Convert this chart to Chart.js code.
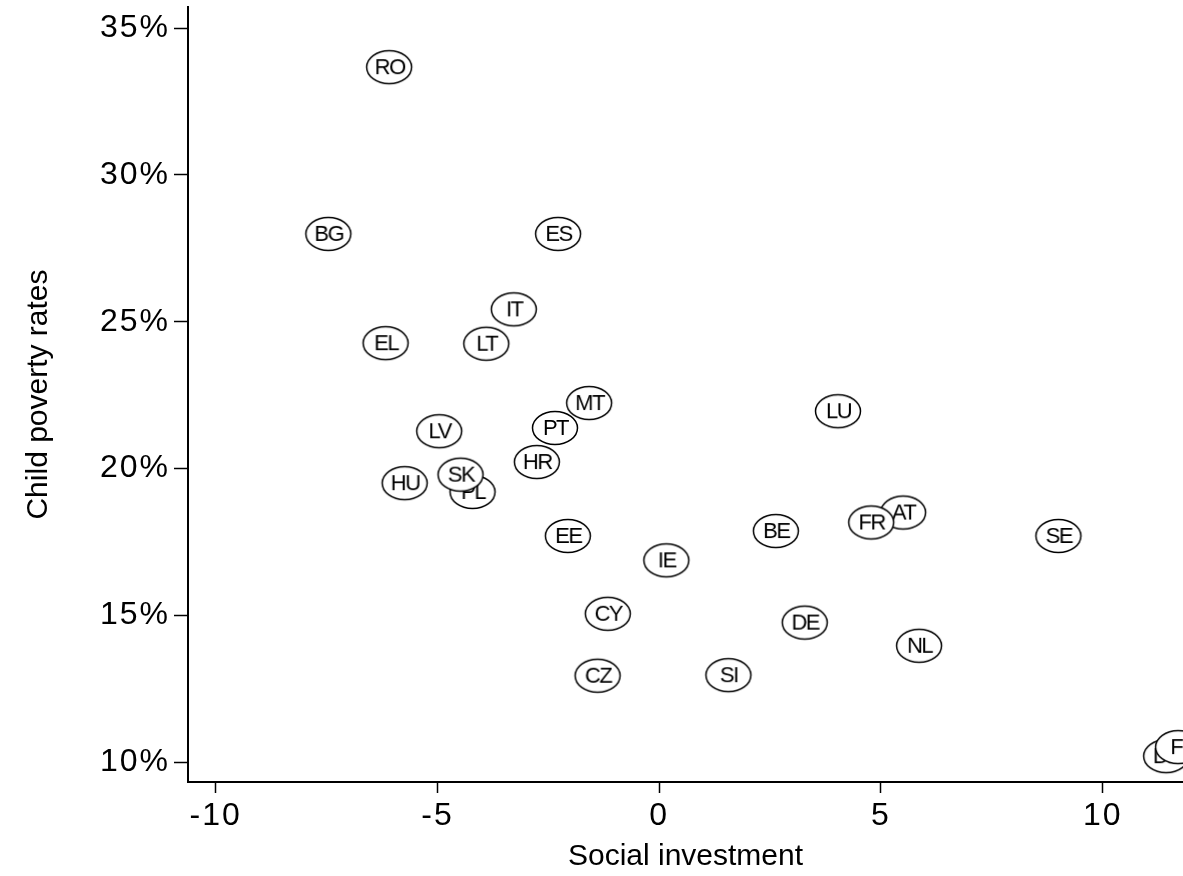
<!DOCTYPE html>
<html>
<head>
<meta charset="utf-8">
<script src="https://cdn.jsdelivr.net/npm/chart.js@4/dist/chart.umd.min.js"></script>
<style>
  html, body { margin: 0; padding: 0; background: #ffffff; overflow: hidden; }
  #wrap { width: 1183px; height: 876px; position: relative; }
</style>
</head>
<body>
<div id="wrap"><canvas id="c"></canvas></div>
<script>
// Country codes, social investment score (x) and child poverty rate in % (y)
const countries = ['AT','BE','BG','CY','CZ','DE','DK','EE','EL','ES','FI','FR','HR','HU','IE','IT','LT','LU','LV','MT','NL','PL','PT','RO','SE','SI','SK'];
const socialInvestment = [5.50, 2.63, -7.46, -1.16, -1.39, 3.28, 11.43, -2.06, -6.17, -2.28, 11.70, 4.78, -2.76, -5.74, 0.16, -3.28, -3.90, 4.03, -4.96, -1.58, 5.86, -4.21, -2.35, -6.09, 9.00, 1.56, -4.48];
const childPoverty = [18.50, 17.87, 27.99, 15.05, 12.94, 14.75, 10.20, 17.70, 24.27, 27.99, 10.51, 18.16, 20.22, 19.50, 16.87, 25.42, 24.25, 21.95, 21.27, 22.23, 13.96, 19.20, 21.38, 33.67, 17.70, 12.96, 19.79];

const xTicks = [-10, -5, 0, 5, 10];
const yTicks = [10, 15, 20, 25, 30, 35];

const FONT = '"Liberation Sans", Arial, sans-serif';

// Ellipse with the country code inside, used as the point style
function markerImage(label) {
  const w = 50, h = 38;
  const cv = document.createElement('canvas');
  cv.width = w; cv.height = h;
  const g = cv.getContext('2d');
  g.beginPath();
  g.ellipse(w / 2, h / 2, 22.5, 16.5, 0, 0, Math.PI * 2);
  g.fillStyle = '#ffffff';
  g.fill();
  g.lineWidth = 1.5;
  g.strokeStyle = '#000000';
  g.stroke();
  g.font = '22px ' + FONT;
  g.letterSpacing = '-1.5px';
  g.textAlign = 'center';
  g.textBaseline = 'middle';
  g.fillStyle = '#000000';
  g.fillText(label, w / 2 + 0.5, h / 2 + 1);
  return cv;
}
const markers = countries.map(markerImage);

const points = countries.map((c, i) => ({ x: socialInvestment[i], y: childPoverty[i] }));

// Slightly wider spacing for the tick numbers
const tickSpacing = {
  id: 'tickSpacing',
  afterLayout(chart) {
    Object.values(chart.scales).forEach(s => {
      if (s._spaced) return;
      const orig = s.drawLabels.bind(s);
      s.drawLabels = function (area) {
        const ctx = this.ctx;
        ctx.save();
        ctx.letterSpacing = '2px';
        orig(area);
        ctx.restore();
      };
      s._spaced = true;
    });
  }
};

// Fixed axis box sizes, without the extra room Chart.js reserves for edge labels
function fixedBox(size, horizontal) {
  return s => {
    if (horizontal) s.height = size; else s.width = size;
    s.paddingTop = s.paddingBottom = s.paddingLeft = s.paddingRight = 0;
  };
}

new Chart(document.getElementById('c'), {
  type: 'scatter',
  data: {
    datasets: [{
      data: points,
      pointStyle: ctx => markers[ctx.dataIndex],
      pointRadius: 23,
      pointHoverRadius: 23,
      clip: false
    }]
  },
  options: {
    responsive: true,
    maintainAspectRatio: false,
    animation: false,
    events: [],
    layout: { autoPadding: false, padding: { top: 7, right: 0, bottom: 0, left: 0 } },
    plugins: { legend: { display: false }, tooltip: { enabled: false } },
    scales: {
      x: {
        type: 'linear',
        position: 'bottom',
        min: -10.625,
        max: 11.81,
        afterBuildTicks: s => { s.ticks = xTicks.map(v => ({ value: v })); },
        afterFit: fixedBox(94, true),
        grid: { drawOnChartArea: false, drawTicks: true, tickLength: 11, tickWidth: 1.5, tickColor: '#000000' },
        border: { display: true, color: '#000000', width: 2 },
        ticks: {
          color: '#000000',
          font: { family: FONT, size: 32 },
          padding: 4,
          maxRotation: 0,
          callback: v => String(v)
        },
        title: {
          display: true,
          text: 'Social investment',
          color: '#000000',
          font: { family: FONT, size: 30 },
          padding: { top: 0, bottom: 1 }
        }
      },
      y: {
        type: 'linear',
        position: 'left',
        min: 9.32,
        max: 35.72,
        afterBuildTicks: s => { s.ticks = yTicks.map(v => ({ value: v })); },
        afterFit: fixedBox(188, false),
        grid: { drawOnChartArea: false, drawTicks: true, tickLength: 14, tickWidth: 1.5, tickColor: '#000000' },
        border: { display: true, color: '#000000', width: 2 },
        ticks: {
          color: '#000000',
          font: { family: FONT, size: 32 },
          padding: 4,
          callback: v => v + '%'
        },
        title: {
          display: true,
          text: 'Child poverty rates',
          color: '#000000',
          font: { family: FONT, size: 30 },
          padding: { top: 21, bottom: 0 }
        }
      }
    }
  },
  plugins: [tickSpacing]
});
</script>
</body>
</html>
